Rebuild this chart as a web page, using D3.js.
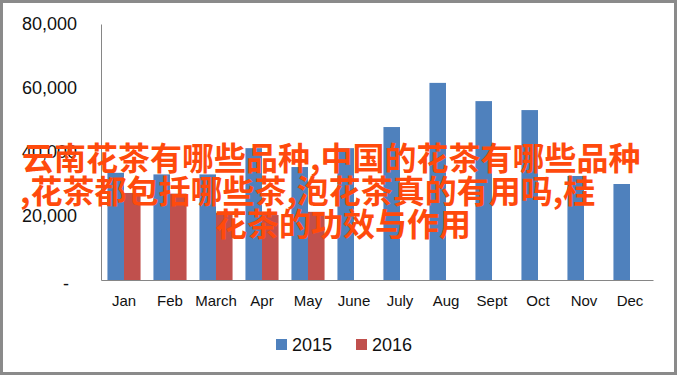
<!DOCTYPE html>
<html>
<head>
<meta charset="utf-8">
<script src="https://cdn.jsdelivr.net/npm/d3@7"></script>
<style>
  body { margin: 0; background: #ffffff; }
  svg { display: block; }
</style>
</head>
<body>
<div id="chart"></div>
<script>
// data
const months = ["Jan", "Feb", "March", "Apr", "May", "June", "July", "Aug", "Sept", "Oct", "Nov", "Dec"];
const series = ["2015", "2016"];
const values2015 = [33500, 33000, 33000, 41200, 35300, 41200, 47800, 61600, 55900, 53100, 32500, 30000];
const values2016 = [27200, 27000, 21000, 20300, 21300, null, null, null, null, null, null, null];
const yTicks = [0, 20000, 40000, 60000, 80000];
const titleLines = [
    "云南花茶有哪些品种,中国的花茶有哪些品种",
    ",花茶都包括哪些茶,泡花茶真的有用吗,桂",
    "花茶的功效与作用"
];

const colors = ["#4f81bd", "#c0504d"];

width = 677,
height = 376;

var svg = d3.select("#chart")
    .append("svg")
    .attr("width", width)
    .attr("height", height);

// outer frame
svg.append("rect")
    .attr("x", 1.5).attr("y", 1.5)
    .attr("width", width - 3).attr("height", height - 4)
    .attr("fill", "#ffffff")
    .attr("stroke", "#8a8a8a")
    .attr("stroke-width", 3);

var plotLeft = 101, plotRight = 653, plotTop = 24, plotBottom = 280;

var x = d3.scaleBand()
    .domain(months)
    .range([plotLeft, plotRight])
    .paddingInner(0.28)
    .paddingOuter(0.14);

var xSub = d3.scaleBand()
    .domain(series)
    .range([0, x.bandwidth()]);

var y = d3.scaleLinear()
    .domain([0, 80000])
    .range([plotBottom, plotTop]);

var color = d3.scaleOrdinal()
    .domain(series)
    .range(colors);

var rows = months.map(function(m, i) {
    return { month: m, values: [
        { key: "2015", value: values2015[i] },
        { key: "2016", value: values2016[i] }
    ]};
});

// bars
svg.append("g")
    .selectAll("g")
    .data(rows)
    .enter()
    .append("g")
      .attr("transform", function(d) { return "translate(" + x(d.month) + ",0)"; })
    .selectAll("rect")
    .data(function(d) { return d.values.filter(function(v) { return v.value != null; }); })
    .enter().append("rect")
      .attr("x", function(d) { return xSub(d.key); })
      .attr("width", xSub.bandwidth())
      .attr("y", function(d) { return y(d.value); })
      .attr("height", function(d) { return y(0) - y(d.value); })
      .attr("fill", function(d) { return color(d.key); });

// y axis
var yAxis = svg.append("g")
    .attr("transform", "translate(" + plotLeft + ",0)")
    .call(d3.axisLeft(y)
        .tickValues(yTicks)
        .tickSize(0)
        .tickPadding(24)
        .tickFormat(function(d) { return d === 0 ? "-" : d3.format(",")(d); }));

yAxis.select(".domain").attr("stroke", "#868686");
yAxis.selectAll("text")
    .style("font-family", "'Liberation Sans', Arial, sans-serif")
    .style("font-size", "18px")
    .attr("fill", "#111111");
yAxis.selectAll(".tick")
    .filter(function(d) { return d === 0; })
    .select("text")
    .attr("x", -32)
    .attr("dy", "0.55em");

// x axis
var xAxis = svg.append("g")
    .attr("transform", "translate(0," + plotBottom + ")")
    .call(d3.axisBottom(x).tickSize(0).tickPadding(15).tickSizeOuter(0));

xAxis.select(".domain").attr("stroke", "#868686");
xAxis.selectAll("text")
    .style("font-family", "'Liberation Sans', Arial, sans-serif")
    .style("font-size", "15px")
    .attr("fill", "#111111");

// legend
var legend = svg.append("g");
var legendX = [276, 356];
series.forEach(function(s, i) {
    legend.append("rect")
        .attr("x", legendX[i]).attr("y", 339)
        .attr("width", 11).attr("height", 11)
        .attr("fill", color(s));
    legend.append("text")
        .attr("x", legendX[i] + 16)
        .attr("y", 351)
        .style("font-family", "'Liberation Sans', Arial, sans-serif")
        .style("font-size", "18px")
        .attr("fill", "#111111")
        .text(s);
});

// overlaid title text
var titleX = [22, 20, 215];
var titleY = [170, 203, 236];
svg.append("g")
    .selectAll("text")
    .data(titleLines)
    .enter().append("text")
      .attr("x", function(d, i) { return titleX[i]; })
      .attr("y", function(d, i) { return titleY[i]; })
      .style("font-family", "'Noto Sans CJK SC', sans-serif")
      .style("font-weight", "bold")
      .style("font-size", "32px")
      .attr("fill", "#ff4a0c")
      .text(function(d) { return d; });
</script>
</body>
</html>
